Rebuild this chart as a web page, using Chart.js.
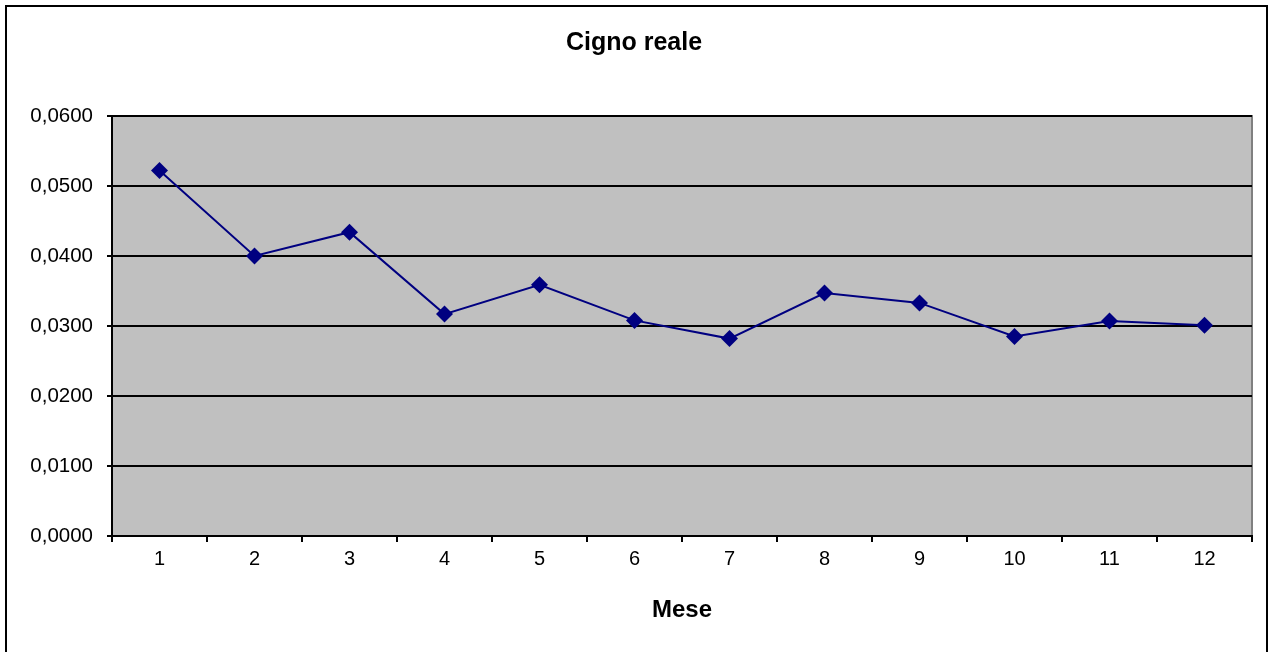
<!DOCTYPE html>
<html>
<head>
<meta charset="utf-8">
<script src="https://cdn.jsdelivr.net/npm/chart.js@4/dist/chart.umd.min.js"></script>
<style>
  html, body { margin: 0; padding: 0; background: #fff; }
  #wrap { width: 1271px; height: 652px; }
</style>
</head>
<body>
<div id="wrap"><canvas id="chart" width="1271" height="652"></canvas></div>
<script>
const months = ['1', '2', '3', '4', '5', '6', '7', '8', '9', '10', '11', '12'];
const cignoReale = [0.0522, 0.0400, 0.0434, 0.0317, 0.0359, 0.0308, 0.0282, 0.0347, 0.0333, 0.0285, 0.0307, 0.0301];
const yTicks = [0, 0.01, 0.02, 0.03, 0.04, 0.05, 0.06];

const FONT = 'Arial, "Liberation Sans", sans-serif';

// grey plot background + outer frame, like the old spreadsheet chart
const frame = {
  id: 'frame',
  beforeDraw(chart) {
    const { ctx, chartArea: a } = chart;
    ctx.save();
    ctx.fillStyle = '#fff';
    ctx.fillRect(0, 0, chart.width, chart.height);
    ctx.fillStyle = '#c0c0c0';
    ctx.fillRect(a.left, a.top, a.right - a.left, a.bottom - a.top);
    ctx.strokeStyle = '#808080';
    ctx.lineWidth = 2;
    ctx.beginPath();
    ctx.moveTo(a.left, a.top);
    ctx.lineTo(a.right, a.top);
    ctx.lineTo(a.right, a.bottom);
    ctx.stroke();
    ctx.strokeStyle = '#000';
    ctx.lineWidth = 2;
    ctx.strokeRect(6, 6, chart.width - 10, chart.height + 20);
    ctx.restore();
  }
};

new Chart(document.getElementById('chart'), {
  type: 'line',
  data: {
    labels: months,
    datasets: [{
      label: 'Cigno reale',
      data: cignoReale,
      borderColor: '#000080',
      backgroundColor: '#000080',
      borderWidth: 2,
      pointStyle: 'rectRot',
      pointRadius: 8.5,
      pointBorderWidth: 0,
      tension: 0,
      fill: false
    }]
  },
  options: {
    responsive: false,
    animation: false,
    layout: { padding: { left: 16, right: 19, top: 0, bottom: 0 } },
    plugins: {
      legend: { display: false },
      tooltip: { enabled: false },
      title: {
        display: true,
        text: 'Cigno reale',
        color: '#000',
        font: { family: FONT, size: 25, weight: 'bold', lineHeight: 1 },
        padding: { top: 31, bottom: 60 }
      }
    },
    scales: {
      x: {
        offset: true,
        grid: {
          offset: true,
          drawOnChartArea: false,
          drawTicks: true,
          tickLength: 6,
          color: '#000',
          lineWidth: 2
        },
        border: { color: '#000', width: 2 },
        ticks: {
          color: '#000',
          padding: 5,
          maxRotation: 0,
          font: { family: FONT, size: 20 }
        },
        title: {
          display: true,
          text: 'Mese',
          color: '#000',
          font: { family: FONT, size: 24, weight: 'bold', lineHeight: 1 },
          padding: { top: 0, bottom: 30 }
        },
        afterFit(scale) { scale.height = 116; }
      },
      y: {
        min: 0,
        max: 0.06,
        afterBuildTicks(scale) { scale.ticks = yTicks.map(v => ({ value: v })); },
        grid: {
          color: '#000',
          lineWidth: 2,
          tickLength: 5
        },
        border: { color: '#000', width: 2 },
        ticks: {
          color: '#000',
          padding: 14,
          font: { family: FONT, size: 20.5 },
          callback: v => (Math.round(v * 10000) / 10000).toFixed(4).replace('.', ',')
        },
        afterFit(scale) { scale.width = 96; }
      }
    }
  },
  plugins: [frame]
});
</script>
</body>
</html>
